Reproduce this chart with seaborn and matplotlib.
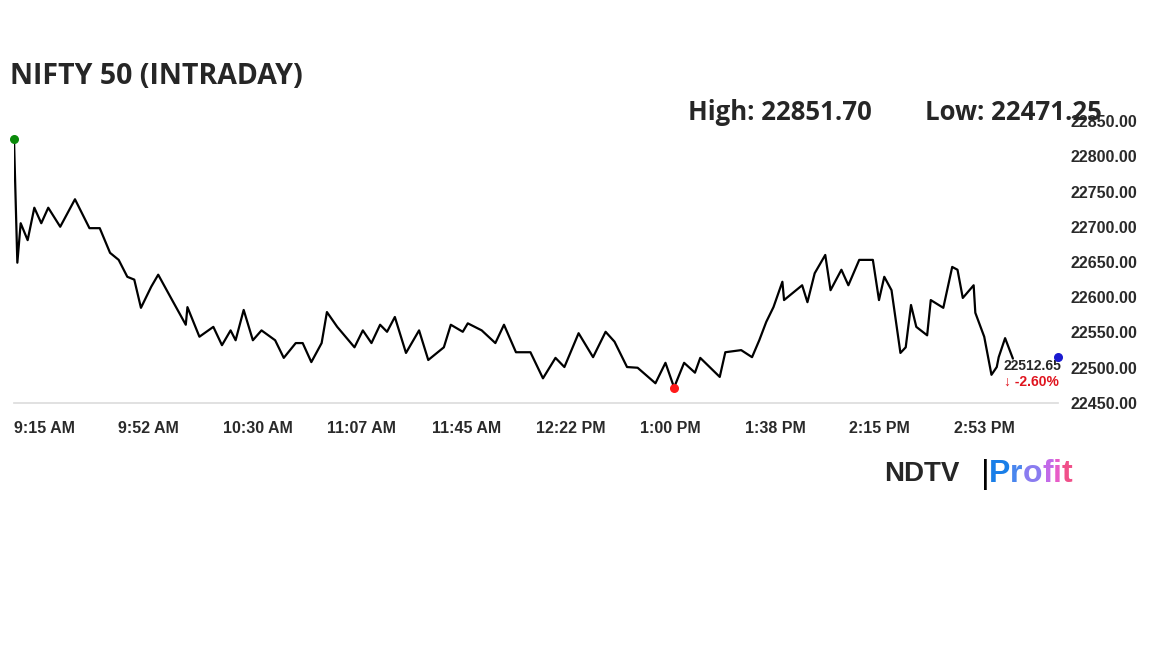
import matplotlib.pyplot as plt
import seaborn as sns
import pandas as pd

# minutes after 9:15 AM
minutes = [0, 1.2, 2.4, 4.9, 7.3, 9.8, 12.3, 16.6, 21.9, 27.1, 30.8, 34.5, 37.6, 40.7, 43.2, 45.6,
           49.3, 51.8, 56.8, 61.7, 62.3, 66.6, 71.6, 74.7, 77.8, 79.6, 82.5, 85.8, 88.9, 93.8, 96.9,
           101.2, 103.7, 106.8, 110.5, 112.4, 116.1, 122.3, 125.3, 128.4, 131.5, 134, 136.8, 140.8,
           145.5, 148.8, 154.4, 156.9, 161.2, 163, 168, 172.9, 176, 180.3, 185.5, 190, 194.5, 197.7,
           202.8, 208, 212.5, 215.7, 220.2, 224, 230.4, 234, 237.1, 240.7, 244.6, 246.5, 253.5, 255.5,
           261.2, 265.1, 267.7, 270.2, 272.8, 276, 276.6, 283.1, 285, 287.6, 291.4, 293.3, 297.2,
           299.7, 303.6, 308.5, 310.7, 312.6, 315.2, 318.4, 320.3, 322.2, 324.1, 328, 329.3, 333.8,
           337, 338.9, 340.8, 344.7, 345.3, 348.5, 351.1, 353, 353.7, 356, 358.8]
values = [22824, 22649, 22705, 22681, 22727, 22705, 22727, 22700, 22739, 22698, 22698, 22663, 22653,
          22629, 22625, 22585, 22615, 22632, 22596, 22561, 22586, 22544, 22558, 22532, 22553, 22539,
          22582, 22539, 22553, 22539, 22514, 22535, 22535, 22508, 22535, 22579, 22558, 22529, 22553,
          22535, 22561, 22551, 22572, 22521, 22553, 22511, 22529, 22561, 22551, 22563, 22553, 22535,
          22561, 22522, 22522, 22485, 22514, 22501, 22549, 22515, 22551, 22537, 22501, 22500, 22478,
          22507, 22472, 22507, 22493, 22514, 22487, 22522, 22525, 22515, 22539, 22565, 22586, 22622,
          22596, 22617, 22593, 22634, 22660, 22610, 22639, 22617, 22653, 22653, 22596, 22629, 22610,
          22521, 22529, 22589, 22558, 22546, 22596, 22585, 22643, 22639, 22599, 22617, 22578, 22544,
          22490, 22501, 22515, 22542, 22513]
tick_minutes = [0, 37.5, 75, 112.5, 150, 187.5, 225, 262.5, 300, 337.5]
tick_labels = ["9:15 AM", "9:52 AM", "10:30 AM", "11:07 AM", "11:45 AM",
               "12:22 PM", "1:00 PM", "1:38 PM", "2:15 PM", "2:53 PM"]
y_ticks = [22450, 22500, 22550, 22600, 22650, 22700, 22750, 22800, 22850]
open_pt = (0, 22824)
low_pt = (237.1, 22471.25)
close_pt = (375, 22515)

df = pd.DataFrame({"m": minutes, "v": values})

sns.set_theme(style="white")
plt.rcParams['font.family'] = ['Open Sans', 'DejaVu Sans']
ARIAL = ['Liberation Sans', 'DejaVu Sans']

fig = plt.figure(figsize=(11.52, 6.48), dpi=100)
ax = fig.add_axes([14 / 1152, 1 - 403 / 648, (1058 - 14) / 1152, (403 - 121) / 648])
sns.lineplot(data=df, x="m", y="v", ax=ax, color="black", linewidth=1.6)
ax.scatter(*open_pt, color="#0a8a0a", s=30, zorder=5, clip_on=False)
ax.scatter(*low_pt, color="#ff1a1a", s=30, zorder=5, clip_on=False)
ax.scatter(*close_pt, color="#1a1ad0", s=30, zorder=5, clip_on=False)

ax.set_xlim(0, 375)
ax.set_ylim(22450, 22850)
ax.set_xlabel("")
ax.set_ylabel("")
for s in ["top", "right", "left"]:
    ax.spines[s].set_visible(False)
ax.spines["bottom"].set_color("#dddddd")
ax.set_xticks(tick_minutes + [375])
ax.set_xticklabels(tick_labels + [""], ha="left", fontsize=11.5, color="#2a2a2a",
                   fontweight="bold", family=ARIAL)
ax.tick_params(axis="x", length=5, color="#dddddd", pad=8)
ax.yaxis.tick_right()
ax.set_yticks(y_ticks)
ax.set_yticklabels([f"{v:.2f}" for v in y_ticks], fontsize=11.5, color="#2a2a2a",
                   fontweight="bold", family=ARIAL)
ax.tick_params(axis="y", length=0, pad=9)

fig.text(10 / 1152, 1 - 77 / 648, "NIFTY 50 (INTRADAY)", fontsize=20.5, fontweight="bold", va="center")
fig.text(688 / 1152, 1 - 112 / 648, "High: 22851.70", fontsize=18.5, fontweight="bold", va="center")
fig.text(925 / 1152, 1 - 112 / 648, "Low: 22471.25", fontsize=18.5, fontweight="bold", va="center")

ax.text(355.5, 22512.65, "22512.65", fontsize=10, fontweight="bold", va="top", family=ARIAL)
ax.text(355.5, 22490, "\u2193 -2.60%", fontsize=10, fontweight="bold", va="top", color="#e0141e",
        family=ARIAL)

# logo
y_logo = 1 - 474 / 648
fig.text(884 / 1152, y_logo, "NDTV", fontsize=20, fontweight="heavy", va="center", family=ARIAL)
fig.text(981 / 1152, y_logo, "|", fontsize=24, va="center", color="black", family=ARIAL)
grad = ["#1a7fe8", "#4a86ee", "#8a7cf0", "#c26ae8", "#e85cc8", "#f0508a"]
renderer = fig.canvas.get_renderer()
x0 = 989
for ch, c in zip("Profit", grad):
    t = fig.text(x0 / 1152, y_logo, ch, fontsize=23, fontweight="bold", va="center", color=c,
                 family=ARIAL)
    x0 += t.get_window_extent(renderer).width

fig.savefig("out.png", dpi=100)
